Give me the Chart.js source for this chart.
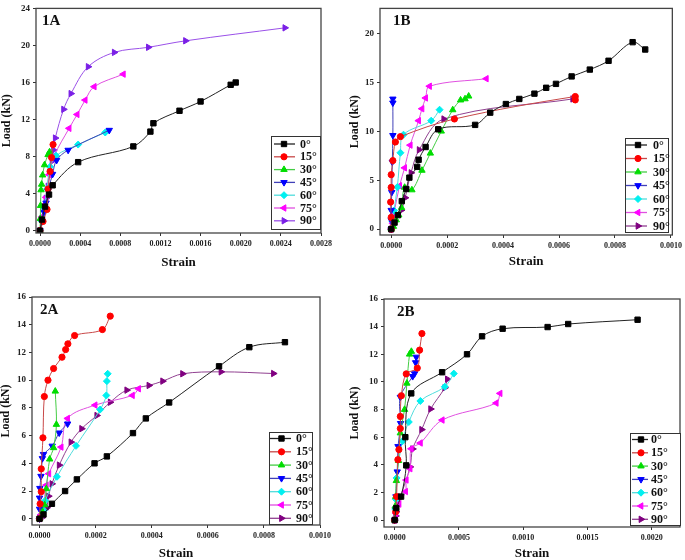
<!DOCTYPE html>
<html>
<head>
<meta charset="utf-8">
<script src="https://cdn.jsdelivr.net/npm/chart.js@4.4.1/dist/chart.umd.min.js"></script>
<style>
  html, body { margin: 0; padding: 0; background: #fff; }
  #page { position: relative; width: 685px; height: 560px; overflow: hidden; }
  canvas { position: absolute; }
</style>
</head>
<body>
<div id="page">
  <canvas id="c1A" width="340" height="270" style="left:0;top:0"></canvas>
  <canvas id="c1B" width="345" height="270" style="left:340px;top:0"></canvas>
  <canvas id="c2A" width="340" height="285" style="left:0;top:275px"></canvas>
  <canvas id="c2B" width="345" height="285" style="left:340px;top:275px"></canvas>
</div>
<script>
const ANGLES = ['0°', '15°', '30°', '45°', '60°', '75°', '90°'];

// panel 1A  [strain, load kN]
const P1A_00 = [[0,0],[0.00002,1.2],[0.00005,2.6],[0.00009,3.9],[0.000126,4.9],[0.00038,7.4],[0.00093,9.1],[0.0011,10.7],[0.00113,11.6],[0.00139,12.95],[0.0016,13.95],[0.0019,15.75],[0.00195,16.0]];
const P1A_15 = [[0,0],[0.00003,1.0],[0.00007,2.3],[0.00008,4.5],[0.0001,6.4],[0.000115,7.9],[0.00013,9.3]];
const P1A_30 = [[0,0],[0.000003,1.3],[0.000005,2.7],[0.00001,4.4],[0.000016,5.0],[0.000026,6.0],[0.000045,7.1],[0.00008,8.2],[0.000095,8.5]];
const P1A_45 = [[0,0],[0.00002,1.0],[0.00004,2.0],[0.00006,3.0],[0.00008,4.3],[0.000125,6.1],[0.000165,7.6],[0.00028,8.7],[0.00069,10.85]];
const P1A_60 = [[0,0],[0.00002,1.0],[0.00004,2.5],[0.00007,4.5],[0.0001,6.9],[0.00016,8.1],[0.00038,9.3],[0.00065,10.6]];
const P1A_75 = [[0,0],[0.00002,1.5],[0.00004,2.8],[0.00006,3.6],[0.00009,6.05],[0.000142,8.1],[0.00029,11.05],[0.00037,12.55],[0.00045,14.1],[0.00054,15.55],[0.00083,16.9]];
const P1A_90 = [[0,0],[0.00002,1.2],[0.00004,2.5],[0.00006,3.5],[0.00008,4.8],[0.0001,6.4],[0.00012,7.5],[0.000135,8.7],[0.000152,10.0],[0.000235,13.1],[0.000308,14.8],[0.00048,17.7],[0.00074,19.25],[0.00108,19.8],[0.00145,20.5],[0.00244,21.9]];

// panel 1B
const P1B_00 = [[0,0],[0.000012,0.67],[0.000024,1.43],[0.000038,2.86],[0.000054,4.1],[0.000065,5.26],[0.000093,6.36],[0.000098,7.09],[0.000123,8.39],[0.000168,10.2],[0.0003,10.65],[0.000354,11.9],[0.00041,12.78],[0.000458,13.3],[0.000512,13.84],[0.000554,14.44],[0.000589,14.84],[0.000645,15.6],[0.00071,16.3],[0.000777,17.2],[0.000863,19.1],[0.000908,18.35]];
const P1B_15 = [[0,0],[0,1.2],[-0.000002,2.76],[0,4.26],[0,5.56],[0.000006,7.0],[0.000015,8.9],[0.000033,9.45],[0.000226,11.25],[0.000658,13.55],[0.000658,13.2]];
const P1B_30 = [[0,0],[0.000008,0.27],[0.000018,0.93],[0.000027,1.43],[0.000037,2.2],[0.000048,4.26],[0.000074,4.0],[0.00011,6.0],[0.00014,7.75],[0.000179,10.0],[0.00022,12.18],[0.000248,13.18],[0.000264,13.3],[0.000277,13.58]];
const P1B_45 = [[0,0],[0,0.9],[0,1.93],[0.000002,3.76],[0.000004,6.86],[0.000006,9.58],[0.000006,12.9],[0.000006,13.3]];
const P1B_60 = [[0,0],[0.000005,0.8],[0.00001,1.9],[0.000022,4.3],[0.000033,7.8],[0.000044,9.65],[0.000143,11.08],[0.000173,12.2]];
const P1B_75 = [[0,0],[0.000005,0.6],[0.00001,1.6],[0.00003,4.43],[0.000048,6.26],[0.000068,8.58],[0.000098,11.08],[0.00011,12.3],[0.000123,13.4],[0.000137,14.6],[0.00034,15.37]];
const P1B_90 = [[0,0],[0.000004,0.3],[0.000008,0.67],[0.000036,1.93],[0.00005,3.2],[0.000071,5.75],[0.0001,8.1],[0.000188,11.25],[0.000649,13.3]];

// panel 2A
const P2A_00 = [[0,0],[0.000014,0.31],[0.000044,1.08],[0.000091,2.0],[0.000133,2.84],[0.000196,4.0],[0.00024,4.5],[0.000333,6.18],[0.000379,7.24],[0.000462,8.39],[0.00064,11.0],[0.000748,12.38],[0.000875,12.74]];
const P2A_15 = [[0,0],[0.000002,1.08],[0.000006,1.95],[0.000006,3.6],[0.000012,5.84],[0.000017,8.82],[0.00003,10.0],[0.00005,10.84],[0.00008,11.66],[0.000093,12.21],[0.000101,12.62],[0.000125,13.22],[0.000224,13.65],[0.000252,14.62]];
const P2A_30 = [[0,0],[0.00001,0.5],[0.000018,1.0],[0.000024,2.16],[0.000036,4.3],[0.00005,5.12],[0.00006,6.8],[0.000056,9.2]];
const P2A_45 = [[0,0],[0,0.7],[0,1.5],[0.000001,2.2],[0.000005,3.07],[0.00001,4.35],[0.000014,4.65],[0.000045,5.25],[0.00007,6.2],[0.0001,6.85]];
const P2A_60 = [[0,0],[0.000015,0.6],[0.00002,1.3],[0.000062,3.03],[0.00013,5.26],[0.000216,7.88],[0.000238,8.9],[0.00024,9.93],[0.000243,10.46]];
const P2A_75 = [[0,0],[0.000005,0.3],[0.000012,0.8],[0.000024,2.43],[0.000033,3.25],[0.000077,5.17],[0.0001,7.24],[0.000198,8.2],[0.000331,8.9],[0.000353,9.38]];
const P2A_90 = [[0,0],[0.00001,0.1],[0.00002,0.67],[0.000026,0.8],[0.000032,1.63],[0.000044,2.52],[0.00007,3.87],[0.000112,5.53],[0.00015,6.5],[0.000204,7.45],[0.000252,8.41],[0.000311,9.28],[0.00039,9.62],[0.000439,9.93],[0.00051,10.46],[0.000647,10.6],[0.000834,10.48]];

// panel 2B
const P2B_00 = [[0,0],[0.000013,0.87],[0.00005,1.7],[0.00009,3.96],[0.000083,6.0],[0.000129,9.17],[0.000369,10.7],[0.000563,12.0],[0.00068,13.3],[0.00084,13.85],[0.00119,13.97],[0.00135,14.19],[0.00189,14.5]];
const P2B_15 = [[0,0],[0.000008,0.6],[0.000015,1.7],[0.000025,4.37],[0.000033,5.1],[0.000044,6.63],[0.000044,7.5],[0.000052,9.0],[0.00009,10.58],[0.000176,11.0],[0.000194,12.3],[0.000212,13.5]];
const P2B_30 = [[0,0],[0.000005,1.0],[0.000008,1.7],[0.000013,2.85],[0.00003,4.3],[0.000044,6.3],[0.000077,8.0],[0.000095,9.9],[0.000116,12.0],[0.00013,12.2]];
const P2B_45 = [[0,0],[0.000005,0.8],[0.00001,1.7],[0.00002,3.5],[0.000026,5.33],[0.000046,7.0],[0.000044,8.9],[0.00014,10.4],[0.000155,10.6],[0.000163,11.4],[0.000168,11.8]];
const P2B_60 = [[0,0],[0.000005,0.8],[0.00001,1.5],[0.000015,3.05],[0.00006,5.7],[0.00011,7.1],[0.0002,8.62],[0.00039,9.65],[0.00046,10.6]];
const P2B_75 = [[0,0],[0.00001,0.5],[0.000034,1.16],[0.000085,2.07],[0.00009,2.9],[0.00012,3.72],[0.000129,5.16],[0.0002,5.58],[0.00037,7.24],[0.00079,8.47],[0.00082,9.17]];
const P2B_90 = [[0,0],[0.000008,0.3],[0.000012,0.6],[0.00002,1.1],[0.000044,1.68],[0.00012,3.85],[0.00014,5.15],[0.00021,6.55],[0.00028,8.04],[0.00039,9.58],[0.00041,10.2]];

// tick values
const X_TICKS_1A = [0, 0.0004, 0.0008, 0.0012, 0.0016, 0.002, 0.0024, 0.0028];
const Y_TICKS_1A = [0, 4, 8, 12, 16, 20, 24];
const X_TICKS_1B = [0, 0.0002, 0.0004, 0.0006, 0.0008, 0.001];
const Y_TICKS_1B = [0, 5, 10, 15, 20];
const X_TICKS_2A = [0, 0.0002, 0.0004, 0.0006, 0.0008, 0.001];
const Y_TICKS_2A = [0, 2, 4, 6, 8, 10, 12, 14, 16];
const X_TICKS_2B = [0, 0.0005, 0.001, 0.0015, 0.002];
const Y_TICKS_2B = [0, 2, 4, 6, 8, 10, 12, 14, 16];

const MARKER_COLORS = ['#000000', '#ff0000', '#00dd00', '#0000ff', '#00f0f0', '#ff00ff', '#800080'];
const LINE_COLORS = ['#222222', '#c84848', '#44cc44', '#4040b8', '#50dcdc', '#e050e0', '#904090'];
const POINT_STYLES = ['rect', 'circle', 'triangle', 'triangle', 'rectRot', 'triangle', 'triangle'];
const POINT_ROTATIONS = [0, 0, 0, 180, 0, -90, 90];
const POINT_RADII = [3.8, 3.1, 3.7, 3.7, 3.5, 3.7, 3.7];

const SERIF = "'Liberation Serif', 'Times New Roman', serif";

const frame = {
  id: 'frame',
  afterDatasetsDraw(chart) {
    const { ctx, chartArea: a } = chart;
    ctx.save();
    ctx.strokeStyle = '#444';
    ctx.lineWidth = 1.3;
    ctx.strokeRect(a.left, a.top, a.right - a.left, a.bottom - a.top);
    ctx.restore();
  }
};

const boxLegend = {
  id: 'boxLegend',
  afterDraw(chart, args, o) {
    const ctx = chart.ctx;
    ctx.save();
    ctx.fillStyle = '#fff';
    ctx.fillRect(o.x, o.y, o.w, o.h);
    ctx.strokeStyle = '#333';
    ctx.lineWidth = 1;
    ctx.strokeRect(o.x + 0.5, o.y + 0.5, o.w, o.h);
    chart.data.datasets.forEach((ds, i) => {
      const cy = o.y + o.first + o.row * i;
      ctx.strokeStyle = ds.borderColor;
      ctx.lineWidth = 1.3;
      ctx.beginPath();
      ctx.moveTo(o.x + o.lineFrom, cy);
      ctx.lineTo(o.x + o.lineTo, cy);
      ctx.stroke();
      ctx.fillStyle = ds.pointBackgroundColor;
      ctx.strokeStyle = ds.pointBorderColor;
      ctx.lineWidth = 1;
      Chart.helpers.drawPoint(ctx, {
        pointStyle: ds.pointStyle, rotation: ds.pointRotation, radius: ds.pointRadius, borderWidth: 1
      }, o.x + o.marker, cy);
      ctx.fillStyle = '#111';
      ctx.font = 'bold 12px ' + SERIF;
      ctx.textBaseline = 'middle';
      ctx.textAlign = 'left';
      ctx.fillText(ds.label, o.x + o.textX, cy + 0.5);
    });
    ctx.restore();
  }
};

const panelTag = {
  id: 'panelTag',
  afterDraw(chart, args, o) {
    const ctx = chart.ctx;
    ctx.save();
    ctx.fillStyle = '#111';
    ctx.font = 'bold 15px ' + SERIF;
    ctx.textBaseline = 'middle';
    ctx.fillText(o.text, chart.chartArea.left + o.dx, chart.chartArea.top + o.dy);
    ctx.restore();
  }
};

function buildDatasets(series, purpleMarker, purpleLine) {
  return series.map((pts, i) => {
    const mc = i === 6 && purpleMarker ? purpleMarker : MARKER_COLORS[i];
    return {
      label: ANGLES[i],
      data: pts.map(([x, y]) => ({ x, y })),
      borderColor: i === 6 && purpleLine ? purpleLine : LINE_COLORS[i],
      backgroundColor: mc,
      pointBackgroundColor: mc,
      pointBorderColor: mc,
      pointStyle: POINT_STYLES[i],
      pointRotation: POINT_ROTATIONS[i],
      pointRadius: POINT_RADII[i],
      pointBorderWidth: 1,
      borderWidth: 1,
      tension: 0.35,
      fill: false
    };
  });
}

function axisTicks(values) {
  return (axis) => { axis.ticks = values.map((value) => ({ value })); };
}

function makePanel(id, p) {
  new Chart(document.getElementById(id), {
    type: 'line',
    data: { datasets: buildDatasets(p.series, p.purpleMarker, p.purpleLine) },
    plugins: [frame, boxLegend, panelTag],
    options: {
      responsive: false,
      animation: false,
      layout: { padding: { left: 0, top: p.area.top, right: p.area.right, bottom: 0 } },
      plugins: {
        legend: { display: false },
        tooltip: { enabled: false },
        boxLegend: p.legend,
        panelTag: p.tag
      },
      scales: {
        x: {
          type: 'linear',
          min: p.xMin, max: p.xMax,
          afterBuildTicks: axisTicks(p.xTicks),
          afterFit: (s) => { s.height = p.area.xHeight; },
          grid: { drawOnChartArea: false, drawTicks: true, tickLength: 3, color: '#333', lineWidth: 1 },
          border: { display: false },
          ticks: {
            padding: 3, maxRotation: 0, autoSkip: false, color: '#222',
            font: { family: SERIF, size: 8, weight: 'bold' },
            callback: (v) => v.toFixed(4)
          },
          title: {
            display: true, text: 'Strain', color: '#111',
            font: { family: SERIF, size: 13, weight: 'bold', lineHeight: 1 },
            padding: { top: 0, bottom: p.xTitlePad }
          }
        },
        y: {
          type: 'linear',
          min: p.yMin, max: p.yMax,
          afterBuildTicks: axisTicks(p.yTicks),
          afterFit: (s) => { s.width = p.area.yWidth; },
          grid: { drawOnChartArea: false, drawTicks: true, tickLength: 3, color: '#333', lineWidth: 1 },
          border: { display: false },
          ticks: {
            padding: 3, autoSkip: false, color: '#222',
            font: { family: SERIF, size: 9, weight: 'bold' },
            callback: (v) => String(v)
          },
          title: {
            display: true, text: 'Load (kN)', color: '#111',
            font: { family: SERIF, size: 12, weight: 'bold', lineHeight: 1 },
            padding: { top: p.yTitlePad, bottom: 0 }
          }
        }
      }
    }
  });
}

makePanel('c1A', {
  series: [P1A_00, P1A_15, P1A_30, P1A_45, P1A_60, P1A_75, P1A_90],
  purpleMarker: '#7a1fe6', purpleLine: '#9a50e8',
  area: { top: 3, right: 19, xHeight: 37, yWidth: 36 },
  xMin: -0.00004, xMax: 0.0028, yMin: -0.25, yMax: 24,
  xTicks: X_TICKS_1A, yTicks: Y_TICKS_1A,
  xTitlePad: 1, yTitlePad: 1,
  legend: { x: 271, y: 136, w: 49, h: 93, first: 8, row: 12.8, lineFrom: 3, lineTo: 24, marker: 13, textX: 29 },
  tag: { text: '1A', dx: 6, dy: 13 }
});

makePanel('c1B', {
  series: [P1B_00, P1B_15, P1B_30, P1B_45, P1B_60, P1B_75, P1B_90],
  area: { top: 3, right: 12, xHeight: 35, yWidth: 40 },
  xMin: -0.00004, xMax: 0.001005, yMin: -0.6, yMax: 22.55,
  xTicks: X_TICKS_1B, yTicks: Y_TICKS_1B,
  xTitlePad: 2, yTitlePad: 9,
  legend: { x: 285, y: 138, w: 43, h: 94, first: 7, row: 13.5, lineFrom: 1, lineTo: 22, marker: 13, textX: 28 },
  tag: { text: '1B', dx: 13, dy: 13 }
});

makePanel('c2A', {
  series: [P2A_00, P2A_15, P2A_30, P2A_45, P2A_60, P2A_75, P2A_90],
  area: { top: 22, right: 20, xHeight: 35, yWidth: 32 },
  xMin: -0.000027, xMax: 0.001, yMin: -0.45, yMax: 16,
  xTicks: X_TICKS_2A, yTicks: Y_TICKS_2A,
  xTitlePad: 0, yTitlePad: 0,
  legend: { x: 269, y: 157, w: 43, h: 92, first: 6.5, row: 13.3, lineFrom: 1, lineTo: 22, marker: 12.5, textX: 27 },
  tag: { text: '2A', dx: 8, dy: 13 }
});

makePanel('c2B', {
  series: [P2B_00, P2B_15, P2B_30, P2B_45, P2B_60, P2B_75, P2B_90],
  area: { top: 24, right: 3, xHeight: 33, yWidth: 44 },
  xMin: -0.000083, xMax: 0.00222, yMin: -0.5, yMax: 16,
  xTicks: X_TICKS_2B, yTicks: Y_TICKS_2B,
  xTitlePad: 0, yTitlePad: 9,
  legend: { x: 290, y: 158, w: 50, h: 92, first: 6.5, row: 13.3, lineFrom: 2, lineTo: 18, marker: 11, textX: 21 },
  tag: { text: '2B', dx: 13, dy: 13 }
});
</script>
</body>
</html>
